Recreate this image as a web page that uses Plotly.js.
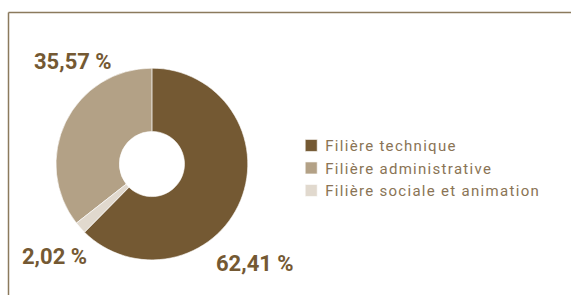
<!DOCTYPE html>
<html>
<head>
<meta charset="utf-8">
<script src="https://cdn.plot.ly/plotly-3.0.1.min.js"></script>
<style>
html,body{margin:0;padding:0;background:#fff;}
#chart{width:571px;height:295px;}
#chart .legendtext{letter-spacing:1.3px;}
</style>
</head>
<body>
<div id="chart"></div>
<script>
// Data
var labels = ["Filière technique", "Filière administrative", "Filière sociale et animation"];
var values = [62.41, 35.57, 2.02];
var colors = ["#745933", "#b3a186", "#e1d9ce"];

// label annotation anchors (paper coords), same order as labels
var labelPos = [[0.447, 0.108], [0.127, 0.79], [0.095, 0.13]];

function fmt(v) { return v.toFixed(2).replace(".", ",") + " %"; }

var trace = {
  type: "pie",
  labels: labels,
  values: values,
  sort: false,
  direction: "counterclockwise",
  rotation: 0,
  hole: 0.34,
  textinfo: "none",
  hoverinfo: "label+percent",
  marker: { colors: colors, line: { color: "#ffffff", width: 0.6 } },
  domain: { x: [0.098, 0.434], y: [0.119, 0.769] }
};

var annotations = values.map(function (v, i) {
  return {
    xref: "paper", yref: "paper",
    x: labelPos[i][0], y: labelPos[i][1],
    xanchor: "center", yanchor: "middle",
    text: fmt(v), showarrow: false,
    font: { family: "Roboto", size: 22, color: "#745933", weight: 700 }
  };
});

var layout = {
  width: 571, height: 295,
  margin: { l: 0, r: 0, t: 0, b: 0 },
  paper_bgcolor: "#ffffff",
  showlegend: true,
  legend: {
    x: 0.51, y: 0.562, xanchor: "left", yanchor: "top",
    font: { family: "Roboto", size: 15, color: "#8a7455" },
    traceorder: "normal",
    bgcolor: "rgba(0,0,0,0)"
  },
  annotations: annotations,
  shapes: [
    { type: "line", xref: "paper", yref: "paper", x0: 8.5/571, x1: 1, y0: 1 - 12.5/295, y1: 1 - 12.5/295,
      line: { color: "#8b7a5d", width: 1.5 } },
    { type: "line", xref: "paper", yref: "paper", x0: 8.5/571, x1: 8.5/571, y0: 0, y1: 1 - 12.5/295,
      line: { color: "#8b7a5d", width: 1.5 } }
  ]
};

Plotly.newPlot("chart", [trace], layout, { displayModeBar: false, staticPlot: true }).then(function () {
  document.querySelectorAll("#chart .legend [clip-path]").forEach(function (g) { g.removeAttribute("clip-path"); });
  document.querySelectorAll("#chart .legend").forEach(function (g) { g.removeAttribute("clip-path"); });
  document.querySelectorAll("#chart .legendtext").forEach(function (t) { t.setAttribute("x", "34"); });
});
</script>
</body>
</html>
